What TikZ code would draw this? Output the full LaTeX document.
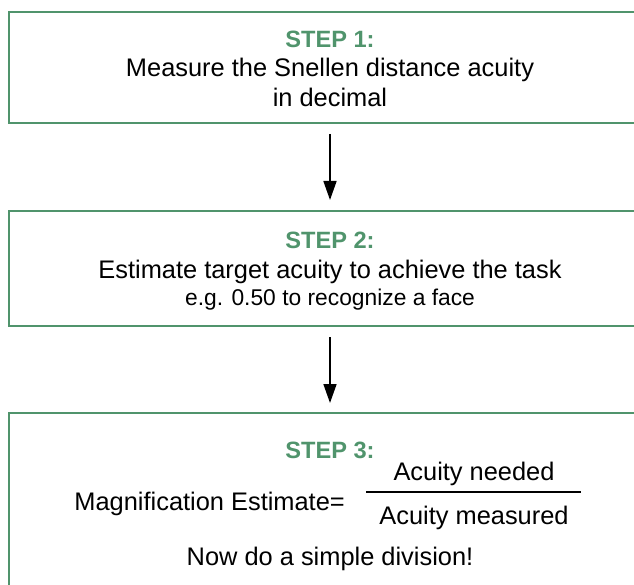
\documentclass[tikz,border=0pt]{standalone}
\usepackage{fontspec}
\setmainfont{Liberation Sans}
\usetikzlibrary{arrows.meta}
\definecolor{stepgreen}{RGB}{80,148,108}
\tikzset{
  stepbox/.style={rectangle, draw=stepgreen, line width=2pt, minimum width=642pt, inner sep=0pt},
  steptitle/.style={anchor=base, text=stepgreen, font=\fontsize{23.6}{28}\selectfont\bfseries, inner sep=0pt},
  steptext/.style={anchor=base, font=\fontsize{25.4}{30}\selectfont, inner sep=0pt},
  smalltext/.style={anchor=base, font=\fontsize{22.8}{27}\selectfont, inner sep=0pt},
  flowarrow/.style={line width=1.6pt, -{Triangle[width=13pt,length=19pt]}}
}
\begin{document}
\begin{tikzpicture}[x=1pt,y=-1pt]
\useasboundingbox (0,0) rectangle (634,585);
\clip (0,0) rectangle (634,585);
\node[stepbox, minimum height=111pt] (S1) at (330,67.5) {};
\node[stepbox, minimum height=115pt] (S2) at (330,268.5) {};
\node[stepbox, minimum height=190pt] (S3) at (330,508) {};
% step 1
\node[steptitle] (T1) at (330,48) {STEP 1:};
\node[steptext] (L1a) at (330,77) {Measure the Snellen distance acuity};
\node[steptext] (L1b) at (330,106.5) {in decimal};
% step 2
\node[steptitle] (T2) at (330,248) {STEP 2:};
\node[steptext] (L2a) at (330,278) {Estimate target acuity to achieve the task};
\node[smalltext] (L2b) at (330,305) {e.g. 0.50 to recognize a face};
% step 3
\node[steptitle] (T3) at (330,458) {STEP 3:};
\node[steptext, anchor=base east] (M) at (345,510) {Magnification Estimate=};
\node[steptext] (N) at (474,480) {Acuity needed};
\node[steptext] (D) at (474,524) {Acuity measured};
\coordinate (B1) at (366,492);
\coordinate (B2) at (581,492);
\draw[line width=1.6pt] (B1) -- (B2);
\node[steptext] (L3) at (330,565) {Now do a simple division!};
% arrows
\draw[flowarrow, shorten <=10pt, shorten >=10pt] (S1.south) -- (S2.north);
\draw[flowarrow, shorten <=10pt, shorten >=9pt] (S2.south) -- (S3.north);
\end{tikzpicture}
\end{document}
